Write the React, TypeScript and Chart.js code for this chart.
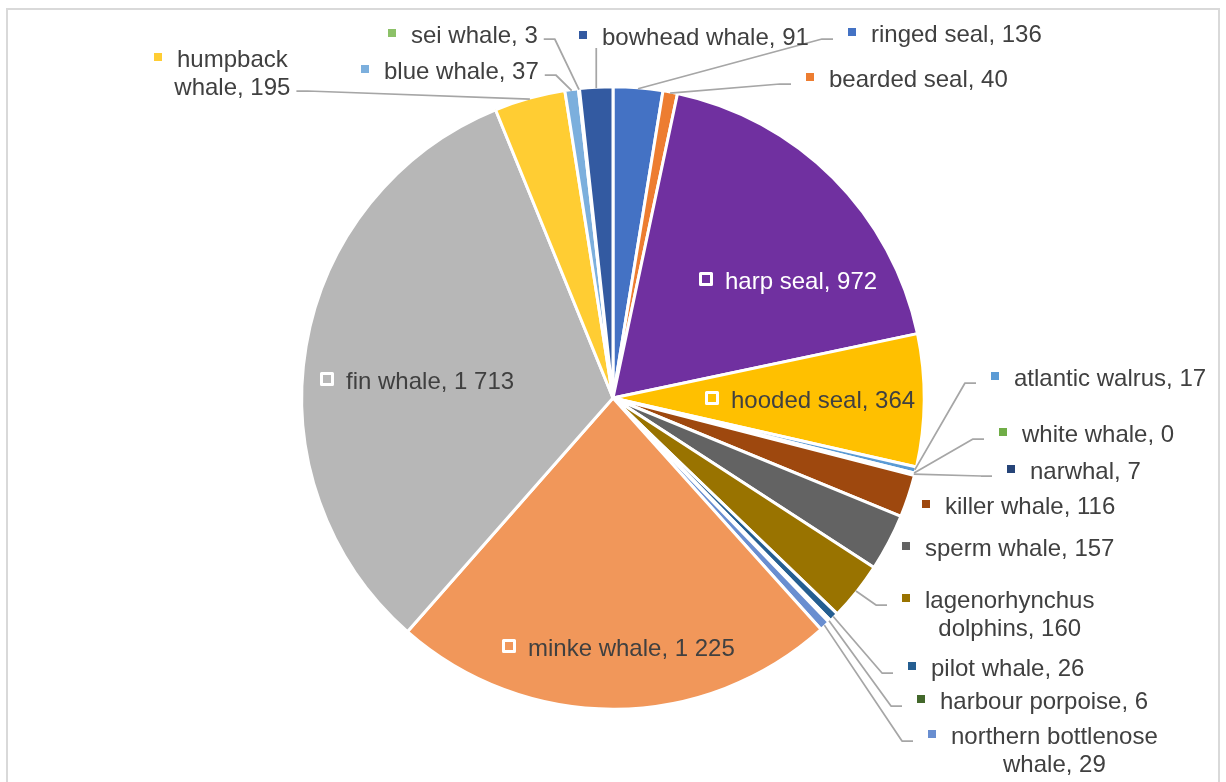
import React, { useEffect, useRef } from "react";
import { Chart, registerables } from "chart.js";

Chart.register(...registerables);

// Catch by species, clockwise from twelve o'clock
const species = [
  "ringed seal",
  "bearded seal",
  "harp seal",
  "hooded seal",
  "atlantic walrus",
  "white whale",
  "narwhal",
  "killer whale",
  "sperm whale",
  "lagenorhynchus dolphins",
  "pilot whale",
  "harbour porpoise",
  "northern bottlenose whale",
  "minke whale",
  "fin whale",
  "humpback whale",
  "blue whale",
  "sei whale",
  "bowhead whale",
];

const counts = [136, 40, 972, 364, 17, 0, 7, 116, 157, 160, 26, 6, 29, 1225, 1713, 195, 37, 3, 91];

const sliceColors = [
  "#4472C4",
  "#ED7D31",
  "#7030A0",
  "#FFC000",
  "#5B9BD5",
  "#70AD47",
  "#264478",
  "#9E480E",
  "#636363",
  "#997300",
  "#255E91",
  "#43682B",
  "#698ED0",
  "#F1975A",
  "#B7B7B7",
  "#FFCD33",
  "#7CAFDD",
  "#8CC168",
  "#335AA1",
];

// Label placement: key-marker centre as an offset from the pie centre
const labelDx = [239, 197, 93, 99, 382, 390, 398, 313, 293, 293, 299, 308, 319, -104, -286, -455, -248, -221, -30];
const labelDy = [-366, -321, -119, 0, -22, 34, 71, 106, 148, 200, 268, 301, 336, 248, -19, -341, -329, -365, -363];
// number of words kept on the first line when a label wraps (0 = one line)
const firstLineWords = [0, 0, 0, 0, 0, 0, 0, 0, 0, 1, 0, 0, 2, 0, 0, 1, 0, 0, 0];
// how each label connects to its slice
const leaderKinds = [
  "right", "right", "inside", "inside", "right", "right", "right", "none", "none",
  "right", "right", "right", "right", "inside", "inside", "left", "left", "left", "down",
];
const whiteText = [false, false, true, false, false, false, false, false, false, false, false, false, false, false, false, false, false, false, false];

const FONT = "'Liberation Sans', Arial, Helvetica, sans-serif";
const FONT_SIZE = 24;
const LINE_HEIGHT = 28;
const TEXT_COLOR = "#404040";
const LEADER_COLOR = "#A6A6A6";

const formatCount = (n: number) => String(n).replace(/\B(?=(\d{3})+(?!\d))/g, " ");

const framePlugin = {
  id: "frame",
  beforeDraw(chart: any) {
    const ctx = chart.ctx as CanvasRenderingContext2D;
    ctx.save();
    ctx.fillStyle = "#ffffff";
    ctx.fillRect(0, 0, chart.width, chart.height);
    ctx.strokeStyle = "#D9D9D9";
    ctx.lineWidth = 2;
    ctx.strokeRect(7, 9, 1212, 900);
    ctx.restore();
  },
};

const labelPlugin = {
  id: "sliceLabels",
  afterDatasetsDraw(chart: any) {
    const ctx = chart.ctx as CanvasRenderingContext2D;
    const meta = chart.getDatasetMeta(0);
    ctx.save();
    ctx.font = `${FONT_SIZE}px ${FONT}`;
    ctx.textBaseline = "alphabetic";

    meta.data.forEach((el: any, i: number) => {
      const { x: cx, y: cy, startAngle, endAngle, outerRadius } = el.getProps(
        ["x", "y", "startAngle", "endAngle", "outerRadius"],
        true
      );
      const mid = (startAngle + endAngle) / 2;
      const ax = cx + Math.cos(mid) * (outerRadius - 1);
      const ay = cy + Math.sin(mid) * (outerRadius - 1);

      const sx = cx + labelDx[i];
      const sy = cy + labelDy[i];
      const text = `${species[i]}, ${formatCount(counts[i])}`;
      const words = text.split(" ");
      const k = firstLineWords[i];
      const lines = k ? [words.slice(0, k).join(" "), words.slice(k).join(" ")] : [text];

      const textLeft = sx + 19;
      const w0 = ctx.measureText(lines[0]).width;
      const centre = textLeft + w0 / 2;
      const kind = leaderKinds[i];

      // leader line
      ctx.strokeStyle = LEADER_COLOR;
      ctx.lineWidth = 1.75;
      ctx.lineJoin = "round";
      if (kind === "right") {
        const ly = sy + 7;
        ctx.beginPath();
        ctx.moveTo(ax, ay);
        ctx.lineTo(sx - 30, ly);
        ctx.lineTo(sx - 19, ly);
        ctx.stroke();
      } else if (kind === "left") {
        const last = lines[lines.length - 1];
        const wl = ctx.measureText(last).width;
        const endX = lines.length > 1 ? centre + wl / 2 : textLeft + wl;
        const ly = sy + (lines.length - 1) * LINE_HEIGHT + 6;
        ctx.beginPath();
        ctx.moveTo(endX + 6, ly);
        ctx.lineTo(endX + 17, ly);
        ctx.lineTo(ax, ay);
        ctx.stroke();
      } else if (kind === "down") {
        ctx.beginPath();
        ctx.moveTo(ax, ay);
        ctx.lineTo(ax, sy + 13);
        ctx.stroke();
      }

      // key marker
      if (kind === "inside") {
        ctx.strokeStyle = "#ffffff";
        ctx.lineWidth = 3;
        ctx.strokeRect(sx - 5.5, sy - 5.5, 11, 11);
      } else {
        ctx.fillStyle = sliceColors[i];
        ctx.fillRect(sx - 4, sy - 4, 8, 8);
      }

      // text
      ctx.fillStyle = whiteText[i] ? "#ffffff" : TEXT_COLOR;
      lines.forEach((line, li) => {
        const by = sy + 10 + li * LINE_HEIGHT;
        if (li === 0) {
          ctx.textAlign = "left";
          ctx.fillText(line, textLeft, by);
        } else {
          ctx.textAlign = "center";
          ctx.fillText(line, centre, by);
        }
      });
    });
    ctx.restore();
  },
};

export default function App() {
  const canvasRef = useRef<HTMLCanvasElement | null>(null);

  useEffect(() => {
    const canvas = canvasRef.current;
    if (!canvas) return;
    const chart = new Chart(canvas, {
      type: "pie",
      data: {
        labels: species,
        datasets: [
          {
            data: counts,
            backgroundColor: sliceColors,
            borderColor: "#ffffff",
            borderWidth: 3,
          },
        ],
      },
      options: {
        responsive: false,
        animation: false,
        devicePixelRatio: 1,
        events: [],
        layout: { padding: { left: 300.25, right: 300.25, top: 85.25, bottom: 71.25 } },
        plugins: {
          legend: { display: false },
          tooltip: { enabled: false },
        },
      },
      plugins: [framePlugin, labelPlugin],
    } as any);
    return () => chart.destroy();
  }, []);

  return (
    <div style={{ position: "absolute", left: 0, top: 0, width: 1226, height: 782, background: "#ffffff" }}>
      <canvas ref={canvasRef} width={1226} height={782} style={{ display: "block", width: 1226, height: 782 }} />
    </div>
  );
}
